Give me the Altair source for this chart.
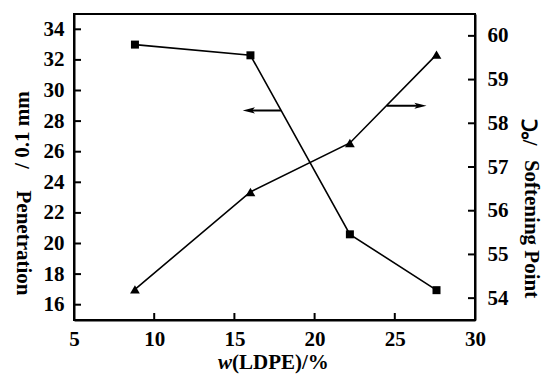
import altair as alt
import pandas as pd

# LDPE dosage (%) and the two measured properties
ldpe = [8.8, 16.0, 22.2, 27.6]
penetration = [33.0, 32.3, 20.6, 16.95]      # 0.1 mm
softening = [54.2, 56.43, 57.55, 59.57]      # deg C

x_ticks = [5, 10, 15, 20, 25, 30]
pen_ticks = [16, 18, 20, 22, 24, 26, 28, 30, 32, 34]
sp_ticks = [54, 55, 56, 57, 58, 59, 60]

# arrows pointing each curve to its own axis
pen_arrow_x = [15.9, 17.9]
pen_arrow_y = 28.7
sp_arrow_x = [24.5, 26.6]
sp_arrow_y = 58.4

FONT = "Liberation Serif"
FS = 21
TFS = 21
W, H = 401, 306
TICK = 7

pen_df = pd.DataFrame({"ldpe": ldpe, "val": penetration})
sp_df = pd.DataFrame({"ldpe": ldpe, "val": softening})
pen_arrow = pd.DataFrame({"x": [pen_arrow_x[0]], "x2": [pen_arrow_x[1]], "y": [pen_arrow_y]})
sp_arrow = pd.DataFrame({"x": [sp_arrow_x[0]], "x2": [sp_arrow_x[1]], "y": [sp_arrow_y]})
xt_df = pd.DataFrame({"t": x_ticks})
pt_df = pd.DataFrame({"t": pen_ticks})
st_df = pd.DataFrame({"t": sp_ticks})
one = pd.DataFrame({"k": [0]})

axis_style = dict(title=None, grid=False, ticks=False, labelFont=FONT,
                  labelFontSize=FS, labelFontWeight="bold", labelColor="black",
                  domainColor="black", domainWidth=2, labelFlush=False,
                  labelOverlap=False)

x_scale = alt.Scale(domain=[5, 30], nice=False, zero=False)
y_left = alt.Scale(domain=[15, 35], nice=False, zero=False)
y_right = alt.Scale(domain=[53.5, 60.5], nice=False, zero=False)

x_axis = alt.Axis(values=x_ticks, labelPadding=8, **axis_style)
left_axis = alt.Axis(values=pen_ticks, orient="left", labelPadding=10, **axis_style)
right_axis = alt.Axis(values=sp_ticks, orient="right", labelPadding=12, **axis_style)


def xq(field):
    return alt.X(field, type="quantitative", scale=x_scale, axis=x_axis)


def yl(field):
    return alt.Y(field, type="quantitative", scale=y_left, axis=None)


def yr(field):
    return alt.Y(field, type="quantitative", scale=y_right, axis=None)


# penetration curve (squares, left axis)
pen_line = alt.Chart(pen_df).mark_line(color="black", strokeWidth=1.6).encode(
    x=xq("ldpe"), y=alt.Y("val:Q", scale=y_left, axis=left_axis))
pen_pts = alt.Chart(pen_df).mark_point(
    shape="square", filled=True, color="black", size=64, opacity=1).encode(
    x=xq("ldpe"), y=yl("val"))

pen_arr_line = alt.Chart(pen_arrow).mark_rule(color="black", strokeWidth=2).encode(
    x=xq("x"), x2="x2:Q", y=yl("y"))
pen_arr_head = alt.Chart(pen_arrow).mark_point(
    shape="M -1 0 L 1 -0.5 L 0.55 0 L 1 0.5 Z", filled=True, color="black",
    size=150, opacity=1).encode(x=xq("x"), y=yl("y"))

# softening point curve (triangles, right axis)
sp_line = alt.Chart(sp_df).mark_line(color="black", strokeWidth=1.6).encode(
    x=xq("ldpe"), y=alt.Y("val:Q", scale=y_right, axis=right_axis))
sp_pts = alt.Chart(sp_df).mark_point(
    shape="triangle-up", filled=True, color="black", size=95, opacity=1).encode(
    x=xq("ldpe"), y=yr("val"))

sp_arr_line = alt.Chart(sp_arrow).mark_rule(color="black", strokeWidth=2).encode(
    x=xq("x"), x2="x2:Q", y=yr("y"))
sp_arr_head = alt.Chart(sp_arrow).mark_point(
    shape="M 1 0 L -1 -0.5 L -0.55 0 L -1 0.5 Z", filled=True, color="black",
    size=150, opacity=1).encode(x=xq("x2"), y=yr("y"))

# inward ticks on all three axes
x_tick_marks = alt.Chart(xt_df).mark_rule(color="black", strokeWidth=2).encode(
    x=xq("t"), y=alt.value(H), y2=alt.value(H - TICK))
left_tick_marks = alt.Chart(pt_df).mark_rule(color="black", strokeWidth=2).encode(
    y=yl("t"), x=alt.value(0), x2=alt.value(TICK))
right_tick_marks = alt.Chart(st_df).mark_rule(color="black", strokeWidth=2).encode(
    y=yr("t"), x=alt.value(W), x2=alt.value(W - TICK))


def label(text, x, y, angle=0, align="center", baseline="middle", style="normal"):
    return alt.Chart(one).mark_text(
        text=text, font=FONT, fontSize=TFS, fontWeight="bold", fontStyle=style,
        color="black", angle=angle, align=align, baseline=baseline,
    ).encode(x=alt.value(x), y=alt.value(y))


titles = [
    label("Penetration", -51, 229, angle=90),
    label("/ 0.1 mm", -51, 116, angle=270),
    label("Softening Point", 457, 215, angle=90),
    label("/℃", 457, 118, angle=270),
    label("w", 158, 355, align="right", baseline="alphabetic", style="italic"),
    label("(LDPE)/%", 158, 355, align="left", baseline="alphabetic"),
]

chart = (
    alt.layer(pen_line, sp_line, pen_pts, sp_pts, pen_arr_line, pen_arr_head,
              sp_arr_line, sp_arr_head, x_tick_marks, left_tick_marks,
              right_tick_marks, *titles)
    .resolve_scale(y="independent")
    .properties(
        width=W, height=H,
        autosize=alt.AutoSizeParams(type="none"),
        padding={"left": 74, "top": 14, "right": 70, "bottom": 54},
        background="white",
    )
    .configure_view(stroke="black", strokeWidth=2)
)

chart.save("out.html", embed_options={"renderer": "svg", "actions": False})
